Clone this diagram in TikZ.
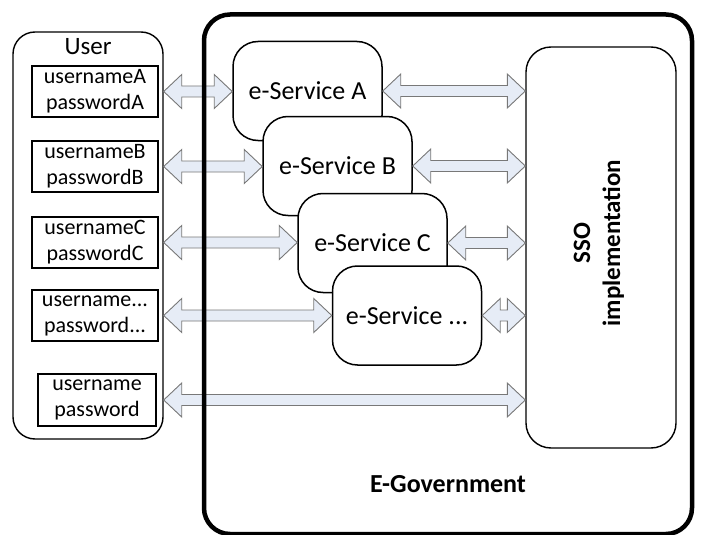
\documentclass[tikz,border=0pt]{standalone}
\usepackage{fontspec}
\setmainfont{Carlito}
\usetikzlibrary{calc}
\definecolor{arrowfill}{RGB}{230,236,246}
\definecolor{arrowline}{RGB}{120,120,120}
\tikzset{
  container/.style={draw=black, line width=1.4pt, rounded corners=22pt, fill=white},
  credbox/.style={draw=black, line width=1.2pt, fill=white, align=center, inner sep=0pt,
    font=\fontsize{22}{26}\selectfont},
  svcbox/.style={draw=black, line width=1.5pt, rounded corners=25pt, fill=white,
    minimum width=149pt, minimum height=99pt, inner sep=0pt, font=\fontsize{26}{30}\selectfont},
  ssobox/.style={draw=black, line width=1.4pt, rounded corners=25pt, fill=white,
    minimum width=150pt, minimum height=401pt, inner sep=0pt},
  govbox/.style={draw=black, line width=4.5pt, rounded corners=26pt},
  blockarrow/.style={draw=arrowline, fill=arrowfill, line width=0.9pt, line join=miter},
}
% double-headed block arrow between two points at the height of the first
\newcommand\dblarrow[2]{%
  \path[blockarrow] let \p1=#1, \p2=#2 in
    (\x1,\y1) -- (\x1+18pt,\y1+17pt) -- (\x1+18pt,\y1+5.5pt) -- (\x2-18pt,\y1+5.5pt)
    -- (\x2-18pt,\y1+17pt) -- (\x2,\y1) -- (\x2-18pt,\y1-17pt) -- (\x2-18pt,\y1-5.5pt)
    -- (\x1+18pt,\y1-5.5pt) -- (\x1+18pt,\y1-17pt) -- cycle;}
\begin{document}
\begin{tikzpicture}[x=1pt,y=-1pt]
\useasboundingbox (0,0) rectangle (702,535);

% User container
\node[container, minimum width=150pt, minimum height=407pt] (user) at (88,235.5) {};
\node[anchor=base, font=\fontsize{25}{30}\selectfont] (usertitle) at (88,55) {User};
\node[credbox, minimum width=126pt, minimum height=51pt] (cA) at (95,91.5) {usernameA\\passwordA};
\node[credbox, minimum width=126pt, minimum height=51pt] (cB) at (95,166.5) {usernameB\\passwordB};
\node[credbox, minimum width=126pt, minimum height=51pt] (cC) at (95,242.5) {usernameC\\passwordC};
\node[credbox, minimum width=126pt, minimum height=51pt] (cD) at (95,315.5) {username...\\password...};
\node[credbox, minimum width=118pt, minimum height=52pt] (cE) at (97,400) {username\\password};

% SSO
\node[ssobox] (sso) at (601,247.5) {};
\node[rotate=90, align=center, font=\bfseries\fontsize{25}{30}\selectfont] (ssotext) at (599,243) {SSO\\implementation};

% services
\node[svcbox] (sA) at (307.5,91) {e-Service A};
\node[svcbox] (sB) at (337.5,166) {e-Service B};
\node[svcbox] (sC) at (372.5,243) {e-Service C};
\node[svcbox] (sD) at (407,315.5) {e-Service ...};

% arrows
\dblarrow{(user.east |- cA)}{(sA.west)}
\dblarrow{(user.east |- cB)}{(sB.west)}
\dblarrow{(user.east |- cC)}{(sC.west)}
\dblarrow{(user.east |- cD)}{(sD.west)}
\dblarrow{(user.east |- cE)}{(sso.west |- cE)}
\dblarrow{(sA.east)}{(sso.west |- sA)}
\dblarrow{(sB.east)}{(sso.west |- sB)}
\dblarrow{(sC.east)}{(sso.west |- sC)}
\dblarrow{(sD.east)}{(sso.west |- sD)}

% E-Government
\coordinate (g1) at (204,14.5);
\coordinate (g2) at (692,534);
\draw[govbox] (g1) rectangle (g2);
\node[anchor=base, font=\bfseries\fontsize{26}{30}\selectfont] (govtext) at (448,492) {E-Government};
\end{tikzpicture}
\end{document}
